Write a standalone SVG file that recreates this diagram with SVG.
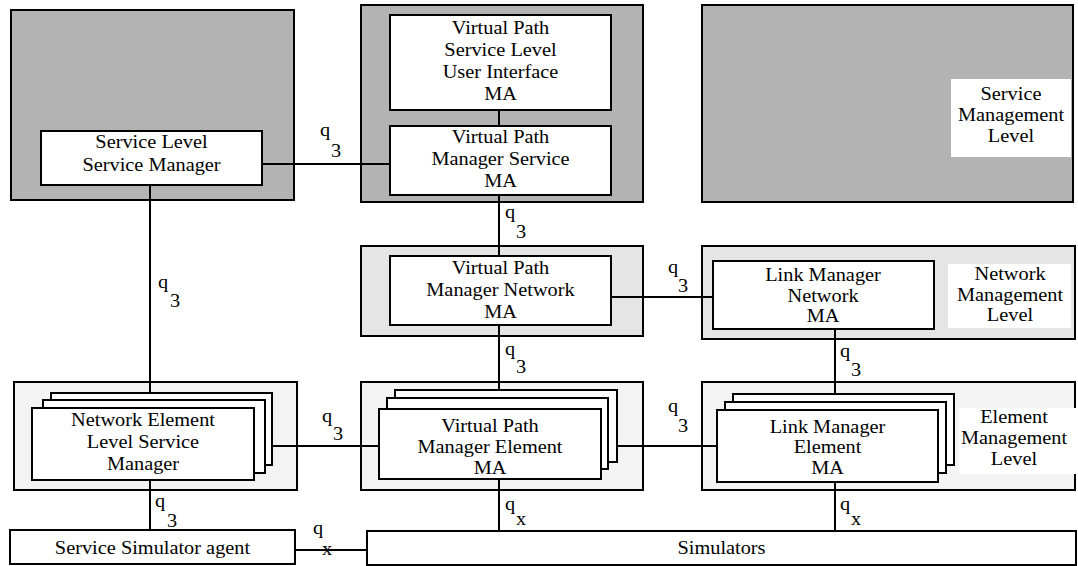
<svg xmlns="http://www.w3.org/2000/svg" width="1078" height="566" viewBox="0 0 1078 566">
  <style>
    .lvl-s { fill: #b3b3b3; stroke: #000; stroke-width: 2; }
    .lvl-n { fill: #e5e5e5; stroke: #000; stroke-width: 2; }
    .lvl-e { fill: #f3f3f3; stroke: #000; stroke-width: 2; }
    .box { fill: #fff; stroke: #000; stroke-width: 2; }
    .tag { fill: #fff; stroke: none; }
    .wire { stroke: #000; stroke-width: 2; fill: none; }
    text { font-family: "Liberation Serif", "Times New Roman", serif; font-size: 18px; fill: #000; }
    .c { text-anchor: middle; }
  </style>

  <!-- management level panels -->
  <g id="service-level-left"><rect class="lvl-s" x="11" y="10" width="283" height="190"/></g>
  <g id="service-level-mid"><rect class="lvl-s" x="361" y="5" width="282" height="197"/></g>
  <g id="service-level-right">
    <rect class="lvl-s" x="702" y="5" width="371" height="197"/>
    <rect class="tag" x="951" y="79" width="120" height="78"/>
    <text class="c" transform="translate(1011,100) scale(1.13,1)"><tspan x="0">Service</tspan><tspan x="0" dy="21.5">Management</tspan><tspan x="0" dy="21">Level</tspan></text>
  </g>
  <g id="network-level-mid"><rect class="lvl-n" x="361" y="246" width="282" height="90"/></g>
  <g id="network-level-right">
    <rect class="lvl-n" x="702" y="246" width="373" height="93"/>
    <rect class="tag" x="948" y="264" width="123" height="64"/>
    <text class="c" transform="translate(1010,280) scale(1.13,1)"><tspan x="0">Network</tspan><tspan x="0" dy="21.5">Management</tspan><tspan x="0" dy="20">Level</tspan></text>
  </g>
  <g id="element-level-left"><rect class="lvl-e" x="14" y="382" width="283" height="108"/></g>
  <g id="element-level-mid"><rect class="lvl-e" x="361" y="382" width="282" height="108"/></g>
  <g id="element-level-right">
    <rect class="lvl-e" x="702" y="382" width="373" height="108"/>
    <rect class="tag" x="959" y="408" width="117" height="66"/>
    <text class="c" transform="translate(1014,423) scale(1.13,1)"><tspan x="0">Element</tspan><tspan x="0" dy="21.5">Management</tspan><tspan x="0" dy="20.5">Level</tspan></text>
  </g>

  <!-- managers and agents -->
  <g id="slsm">
    <rect class="box" x="41" y="131" width="221" height="54"/>
    <text class="c" transform="translate(151.5,148) scale(1.13,1)"><tspan x="0">Service Level</tspan><tspan x="0" dy="23">Service Manager</tspan></text>
  </g>
  <g id="vp-ui">
    <rect class="box" x="390" y="15" width="221" height="95"/>
    <text class="c" transform="translate(500.5,34) scale(1.13,1)"><tspan x="0">Virtual Path</tspan><tspan x="0" dy="22">Service Level</tspan><tspan x="0" dy="22">User Interface</tspan><tspan x="0" dy="22">MA</tspan></text>
  </g>
  <g id="vpms">
    <rect class="box" x="390" y="126" width="221" height="69"/>
    <text class="c" transform="translate(500.5,143) scale(1.13,1)"><tspan x="0">Virtual Path</tspan><tspan x="0" dy="22.5">Manager Service</tspan><tspan x="0" dy="21.5">MA</tspan></text>
  </g>
  <g id="vpmn">
    <rect class="box" x="390" y="256" width="221" height="69"/>
    <text class="c" transform="translate(500.5,274) scale(1.13,1)"><tspan x="0">Virtual Path</tspan><tspan x="0" dy="22">Manager Network</tspan><tspan x="0" dy="22">MA</tspan></text>
  </g>
  <g id="lmn">
    <rect class="box" x="713" y="261" width="221" height="68"/>
    <text class="c" transform="translate(823,281) scale(1.13,1)"><tspan x="0">Link Manager</tspan><tspan x="0" dy="21">Network</tspan><tspan x="0" dy="20.5">MA</tspan></text>
  </g>
  <g id="nelsm">
    <rect class="box" x="51" y="393" width="221" height="72"/>
    <rect class="box" x="43" y="400" width="222" height="73"/>
    <rect class="box" x="32" y="408" width="222" height="72"/>
    <text class="c" transform="translate(143,426) scale(1.13,1)"><tspan x="0">Network Element</tspan><tspan x="0" dy="22">Level Service</tspan><tspan x="0" dy="22">Manager</tspan></text>
  </g>
  <g id="vpme">
    <rect class="box" x="395" y="390" width="222" height="72"/>
    <rect class="box" x="387" y="398" width="221" height="71"/>
    <rect class="box" x="379" y="409" width="222" height="70"/>
    <text class="c" transform="translate(490,432) scale(1.13,1)"><tspan x="0">Virtual Path</tspan><tspan x="0" dy="21">Manager Element</tspan><tspan x="0" dy="21">MA</tspan></text>
  </g>
  <g id="lme">
    <rect class="box" x="733" y="394" width="221" height="71"/>
    <rect class="box" x="725" y="402" width="221" height="71"/>
    <rect class="box" x="717" y="410" width="221" height="72"/>
    <text class="c" transform="translate(827.5,433) scale(1.13,1)"><tspan x="0">Link Manager</tspan><tspan x="0" dy="20.5">Element</tspan><tspan x="0" dy="20.5">MA</tspan></text>
  </g>
  <g id="ssa">
    <rect class="box" x="10" y="530" width="285" height="34"/>
    <text class="c" transform="translate(152.5,554) scale(1.13,1)">Service Simulator agent</text>
  </g>
  <g id="simulators">
    <rect class="box" x="367" y="531" width="709" height="34"/>
    <text class="c" transform="translate(721.5,554) scale(1.13,1)">Simulators</text>
  </g>

  <!-- interfaces between managers -->
  <g id="connectors">
    <path class="wire" d="M262 164H390"/>
    <path class="wire" d="M499 110V126"/>
    <path class="wire" d="M499 195V256"/>
    <path class="wire" d="M611 297H713"/>
    <path class="wire" d="M499 325V390"/>
    <path class="wire" d="M835 329V394"/>
    <path class="wire" d="M150 185V393"/>
    <path class="wire" d="M272 446H379"/>
    <path class="wire" d="M617 446H717"/>
    <path class="wire" d="M150 480V530"/>
    <path class="wire" d="M295 550H367"/>
    <path class="wire" d="M499 479V531"/>
    <path class="wire" d="M835 482V531"/>

    <text transform="translate(320,136) scale(1.13,1)">q</text>
    <text transform="translate(331,157) scale(1.13,1)">3</text>
    <text transform="translate(505,218) scale(1.13,1)">q</text>
    <text transform="translate(516,238) scale(1.13,1)">3</text>
    <text transform="translate(668,273) scale(1.13,1)">q</text>
    <text transform="translate(678,292) scale(1.13,1)">3</text>
    <text transform="translate(505,355) scale(1.13,1)">q</text>
    <text transform="translate(516,373) scale(1.13,1)">3</text>
    <text transform="translate(840,357) scale(1.13,1)">q</text>
    <text transform="translate(851,376) scale(1.13,1)">3</text>
    <text transform="translate(158,288) scale(1.13,1)">q</text>
    <text transform="translate(170,307) scale(1.13,1)">3</text>
    <text transform="translate(322,422) scale(1.13,1)">q</text>
    <text transform="translate(333,440) scale(1.13,1)">3</text>
    <text transform="translate(668,412) scale(1.13,1)">q</text>
    <text transform="translate(678,432) scale(1.13,1)">3</text>
    <text transform="translate(155,507) scale(1.13,1)">q</text>
    <text transform="translate(167,527) scale(1.13,1)">3</text>
    <text transform="translate(313,534) scale(1.13,1)">q</text>
    <text transform="translate(322,555) scale(1.13,1)">x</text>
    <text transform="translate(505,510) scale(1.13,1)">q</text>
    <text transform="translate(516,525) scale(1.13,1)">x</text>
    <text transform="translate(840,510) scale(1.13,1)">q</text>
    <text transform="translate(851,525) scale(1.13,1)">x</text>
  </g>
</svg>
